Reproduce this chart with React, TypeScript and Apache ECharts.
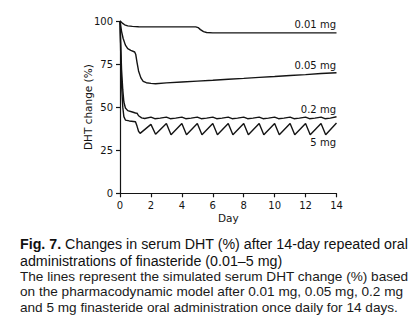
import React, { useEffect, useRef } from "react";
import * as echarts from "echarts";

const xTicks = [0, 2, 4, 6, 8, 10, 12, 14];
const yTicks = [0, 25, 50, 75, 100];

const dose001: [number, number][] = [
  [0, 100], [0.15, 98.8], [0.3, 97.8], [0.5, 97.2], [0.8, 96.9], [1.2, 96.7],
  [2, 96.6], [3, 96.6], [4, 96.6], [4.9, 96.6], [5.05, 96.2], [5.2, 95.0],
  [5.4, 93.8], [5.6, 93.3], [6, 93.1], [8, 93.1], [10, 93.1], [12, 93.1], [14, 93.1],
];

const dose005: [number, number][] = [
  [0, 100], [0.1, 94], [0.2, 90], [0.35, 86], [0.5, 84], [0.7, 83], [0.95, 82],
  [1.02, 80.5], [1.1, 76], [1.2, 71], [1.35, 67], [1.5, 65], [1.7, 64.2], [2, 63.8],
  [2.3, 63.6], [3, 64.1], [4, 64.6], [5, 65.1], [6, 65.6], [7, 66.2], [8, 66.7],
  [9, 67.3], [10, 67.8], [11, 68.4], [12, 68.9], [13, 69.5], [14, 70],
];

const dose02: [number, number][] = [
  [0, 100], [0.05, 85], [0.1, 72], [0.18, 60], [0.25, 53], [0.35, 49.5], [0.5, 48],
  [0.8, 47.2], [1.0, 46.6], [1.1, 46.5], [1.2, 45], [1.4, 43.8], [1.6, 43.4],
  [2, 44.2], [2.25, 43.3], [2.6, 43.6], [3, 44.2], [3.25, 43.3], [3.6, 43.6],
  [4, 44.2], [4.25, 43.3], [4.6, 43.6], [5, 44.2], [5.25, 43.3], [5.6, 43.6],
  [6, 44.2], [6.25, 43.3], [6.6, 43.6], [7, 44.2], [7.25, 43.3], [7.6, 43.6],
  [8, 44.2], [8.25, 43.3], [8.6, 43.6], [9, 44.2], [9.25, 43.3], [9.6, 43.6],
  [10, 44.2], [10.25, 43.3], [10.6, 43.6], [11, 44.2], [11.25, 43.3], [11.6, 43.6],
  [12, 44.2], [12.25, 43.3], [12.6, 43.6], [13, 44.2], [13.25, 43.3], [13.6, 43.6],
  [14, 44.4],
];

const dose5: [number, number][] = [
  [0, 100], [0.05, 80], [0.1, 63], [0.18, 50], [0.25, 44.5], [0.35, 42.5], [0.6, 42],
  [1.0, 41.5], [1.1, 39], [1.2, 36], [1.3, 34.8], [2, 40], [2.3, 34.3],
  [3, 40.5], [3.3, 34], [4, 40.5], [4.3, 34], [5, 40.5], [5.3, 34],
  [6, 40.5], [6.3, 34], [7, 40.5], [7.3, 34], [8, 40.5], [8.3, 34],
  [9, 40.5], [9.3, 34], [10, 40.5], [10.3, 34], [11, 40.5], [11.3, 34],
  [12, 40.5], [12.3, 34], [13, 40.5], [13.3, 34], [14, 40.8],
];

const seriesNames = ["0.01 mg", "0.05 mg", "0.2 mg", "5 mg"];

const captionTitle1 = "Changes in serum DHT (%) after 14-day repeated oral";
const captionTitle2 = "administrations of finasteride (0.01\u20135 mg)";
const captionBody = [
  "The lines represent the simulated serum DHT change (%) based",
  "on the pharmacodynamic model after 0.01 mg, 0.05 mg, 0.2 mg",
  "and 5 mg finasteride oral administration once daily for 14 days.",
];

const AX = "DejaVu Sans";
const CAP = "Liberation Sans, Arial, sans-serif";
const INK = "#141414";

export default function App() {
  const ref = useRef<HTMLDivElement>(null);
  useEffect(() => {
    if (!ref.current) return;
    const chart = echarts.init(ref.current, undefined, { renderer: "svg" });
    const datasets = [dose001, dose005, dose02, dose5];
    const labelY = [24.8, 65.5, 109, 142.5];
    chart.setOption({
      animation: false,
      backgroundColor: "#ffffff",
      grid: { left: 120, right: 78.5, top: 21, bottom: 133.7 },
      xAxis: {
        type: "value",
        min: xTicks[0],
        max: xTicks[xTicks.length - 1],
        interval: 2,
        name: "Day",
        nameLocation: "middle",
        nameGap: 19,
        nameMoveOverlap: false,
        nameTextStyle: { fontFamily: AX, fontSize: 10.5, color: INK },
        axisLine: { lineStyle: { color: INK, width: 1.2 } },
        axisTick: { show: true, length: 4, lineStyle: { color: INK, width: 1.2 } },
        axisLabel: { fontFamily: AX, fontSize: 10, color: INK, margin: 7 },
        splitLine: { show: false },
      },
      yAxis: {
        type: "value",
        min: yTicks[0],
        max: yTicks[yTicks.length - 1],
        interval: 25,
        name: "DHT change (%)",
        nameLocation: "middle",
        nameGap: 27,
        nameMoveOverlap: false,
        nameTextStyle: { fontFamily: AX, fontSize: 10.5, color: INK },
        axisLine: { show: true, lineStyle: { color: INK, width: 1.2 } },
        axisTick: { show: true, length: 4, lineStyle: { color: INK, width: 1.2 } },
        axisLabel: { fontFamily: AX, fontSize: 10, color: INK, margin: 7 },
        splitLine: { show: false },
      },
      series: datasets.map((d, i) => ({
        type: "line",
        name: seriesNames[i],
        data: d,
        showSymbol: false,
        symbol: "none",
        lineStyle: { color: INK, width: 1.4 },
        z: 3,
      })),
      graphic: [
        ...seriesNames.map((n, i) => ({
          type: "text",
          x: 336,
          y: labelY[i],
          style: {
            text: n,
            fontFamily: AX,
            fontSize: 10,
            fill: INK,
            align: "right",
            verticalAlign: "middle",
          },
        })),
        {
          type: "text",
          x: 20,
          y: 244,
          style: {
            text: "{b|Fig. 7.} " + captionTitle1,
            fontFamily: CAP,
            fontSize: 14.25,
            fill: "#111",
            verticalAlign: "middle",
            rich: {
              b: { fontFamily: CAP, fontSize: 14.25, fontWeight: "bold", fill: "#111" },
            },
          },
        },
        {
          type: "text",
          x: 20,
          y: 261,
          style: {
            text: captionTitle2,
            fontFamily: CAP,
            fontSize: 14.25,
            fill: "#111",
            verticalAlign: "middle",
          },
        },
        ...captionBody.map((t, i) => ({
          type: "text",
          x: 20,
          y: 276 + i * 15.5,
          style: {
            text: t,
            fontFamily: CAP,
            fontSize: 13.6,
            fill: "#1a1a1a",
            verticalAlign: "middle",
          },
        })),
      ],
    });
    return () => chart.dispose();
  }, []);
  return (
    <div
      ref={ref}
      style={{ position: "fixed", left: 0, top: 0, width: 415, height: 327, background: "#fff" }}
    />
  );
}
